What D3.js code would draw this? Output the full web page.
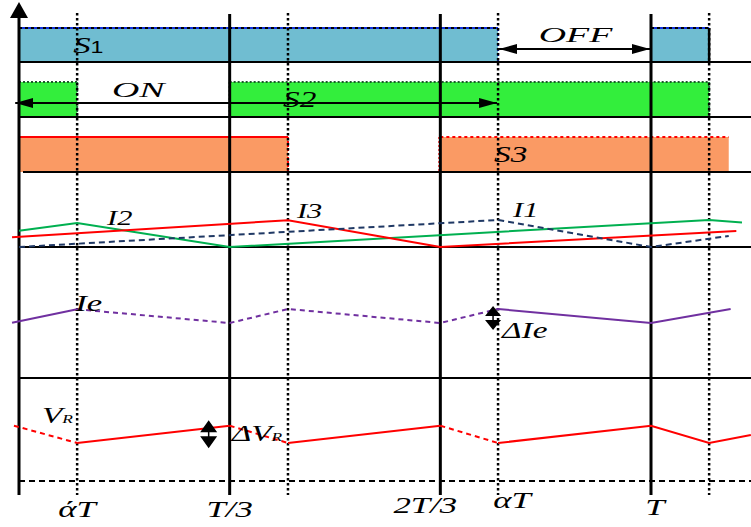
<!DOCTYPE html>
<html>
<head>
<meta charset="utf-8">
<script src="https://cdn.jsdelivr.net/npm/d3@7"></script>
<style>
html, body { margin: 0; padding: 0; background: #fff; }
svg { display: block; }
text { font-family: "Liberation Serif", "DejaVu Serif", serif; font-style: italic; fill: #000; }
</style>
</head>
<body>
<div id="chart"></div>
<script>
// time is in units of the period T
const T_A = 0.092;    // ά T
const T_D = 0.4256;   // T/3 + ά T
const T_B = 0.758;    // α T
const T_C = 1.092;    // T + ά T

const tickTimes = [T_A, 1/3, 2/3, T_B, 1];
const tickLabels = ['άT', 'T/3', '2T/3', 'αT', 'T'];
const solidTimes = [1/3, 2/3, 1];
const dottedTimes = [T_A, T_D, T_B, T_C];

// switch on-intervals [start, end]
const s1On = [[0, T_B], [1, T_C]];
const s2On = [[0, T_A], [1/3, T_C]];
const s3On = [[0, T_D], [2/3, 1.123]];

// phase currents, 0 = valley, 1 = peak
const i1Pts = [[0, 0], [T_B, 1], [1, 0], [1.123, 0.41]];
const i2Pts = [[0, 0.6], [T_A, 0.89], [1/3, 0], [T_C, 1], [1.144, 0.91]];
const i3Pts = [[-0.011, 0.36], [T_D, 0.99], [2/3, 0], [1.135, 0.59]];

// output current ripple
const iePts = [[-0.011, 0.02], [T_A, 0.98], [1/3, 0], [T_D, 1], [2/3, 0], [T_B, 1], [1, 0], [1.126, 1]];
const ieDashed = [false, true, true, true, true, false, false];

// output voltage ripple
const vrPts = [[-0.008, 1], [T_A, 0], [1/3, 1], [T_D, 0], [2/3, 1], [T_B, 0], [1, 1], [T_C, 0], [1.158, 0.46]];
const vrDashed = [true, false, true, false, true, false, false, false];

const W = 751, H = 527;
const SX = 1.45; // the figure's lettering is stretched sideways

const x = d3.scaleLinear().domain([0, 1]).range([19, 651]);
const row1 = [28, 62], row2 = [82, 117], row3 = [137, 172];
const yCur = d3.scaleLinear().domain([0, 1]).range([247, 220]);
const yIe = d3.scaleLinear().domain([0, 1]).range([323, 309]);
const yVr = d3.scaleLinear().domain([0, 1]).range([443, 425.7]);
const yBase = 378, yBottom = 481, yLineTop = 14, yLineBot = 495;

const svg = d3.select('#chart')
.append('svg')
.attr('width', W)
.attr('height', H);

const defs = svg.append('defs');
defs.append('marker')
.attr('id', 'head')
.attr('viewBox', '0 -5 18 10')
.attr('refX', 18)
.attr('refY', 0)
.attr('markerWidth', 18)
.attr('markerHeight', 10)
.attr('markerUnits', 'userSpaceOnUse')
.attr('orient', 'auto-start-reverse')
.append('path')
.attr('d', 'M0,-5L18,0L0,5Z')
.attr('fill', '#000');

function hline(x1, x2, y, color, width, dash) {
    return svg.append('line')
    .attr('x1', x1).attr('x2', x2).attr('y1', y).attr('y2', y)
    .attr('stroke', color).attr('stroke-width', width)
    .attr('stroke-dasharray', dash || null);
}
function vline(xx, y1, y2, color, width, dash) {
    return svg.append('line')
    .attr('x1', xx).attr('x2', xx).attr('y1', y1).attr('y2', y2)
    .attr('stroke', color).attr('stroke-width', width)
    .attr('stroke-dasharray', dash || null);
}

// ---- switch bars
function bars(on, row, fill) {
    svg.append('g')
    .selectAll('rect')
    .data(on)
    .enter()
    .append('rect')
    .attr('x', d => x(d[0]))
    .attr('y', row[0])
    .attr('width', d => x(d[1]) - x(d[0]))
    .attr('height', row[1] - row[0])
    .attr('fill', fill);
}
bars(s1On, row1, '#70BDD1');
bars(s2On, row2, '#33EE3C');
bars(s3On, row3, '#FA9A64');

// S1 borders
s1On.forEach(d => {
    hline(x(d[0]), x(d[1]), row1[0], '#000', 2, '3,3');
    hline(x(d[0]), x(d[1]), row1[0], '#1030E0', 2, '3,3').attr('stroke-dashoffset', 3);
});
vline(x(s1On[0][1]), row1[0], row1[1], '#1030E0', 2, '3,2');
vline(x(s1On[1][0]), row1[0], row1[1], '#1030E0', 2, '3,2');
vline(x(s1On[1][1]), row1[0], row1[1], '#000', 2.5);

// S2 borders
s2On.forEach(d => {
    hline(x(d[0]), x(d[1]), row2[0], '#1d5a2c', 2, '2,2');
    vline(x(d[1]), row2[0], row2[1], '#1d7a3c', 2, '2,2');
});
vline(x(s2On[1][0]), row2[0], row2[1], '#1d7a3c', 2, '2,2');

// S3 borders
hline(x(s3On[0][0]), x(s3On[0][1]), row3[0], '#FF0000', 2);
vline(x(s3On[0][1]), row3[0], row3[1], '#FF0000', 2, '2,2');
hline(x(s3On[1][0]), x(s3On[1][1]), row3[0], '#FF0000', 2, '3,3');
vline(x(s3On[1][0]) - 1, row3[0], row3[1], '#FF0000', 2, '2,2');

// ---- grid lines
[row1[1], row2[1], yCur(0), yBase].forEach(y => hline(x(0), W, y, '#000', 2));
hline(x(0) + 4, W, row3[1], '#000', 2);
hline(x(0), W, yBottom, '#000', 2, '6,4');

svg.append('g')
.selectAll('line')
.data(solidTimes)
.enter()
.append('line')
.attr('x1', d => x(d)).attr('x2', d => x(d))
.attr('y1', yLineTop).attr('y2', yLineBot)
.attr('stroke', '#000').attr('stroke-width', 3);

svg.append('g')
.selectAll('line')
.data(dottedTimes)
.enter()
.append('line')
.attr('x1', d => x(d)).attr('x2', d => x(d))
.attr('y1', yLineTop - 1).attr('y2', yLineBot)
.attr('stroke', '#000').attr('stroke-width', 2.5)
.attr('stroke-dasharray', '2.5,2.5');

// vertical axis with arrow
vline(x(0), 17, yLineBot, '#000', 3);
svg.append('path')
.attr('d', `M${x(0)},2L${x(0) - 9},18L${x(0) + 9},18Z`)
.attr('fill', '#000');

// ON / OFF arrows
hline(x(T_B) + 1, x(1) - 1, 49, '#000', 2)
.attr('marker-start', 'url(#head)').attr('marker-end', 'url(#head)');
hline(x(-0.006), x(T_B) - 1, 103, '#000', 2)
.attr('marker-start', 'url(#head)').attr('marker-end', 'url(#head)');

// ---- waveforms
function wave(pts, y, color, dash) {
    svg.append('path')
    .datum(pts)
    .attr('d', d3.line().x(d => x(d[0])).y(d => y(d[1])))
    .attr('fill', 'none')
    .attr('stroke', color)
    .attr('stroke-width', 2)
    .attr('stroke-dasharray', dash || null);
}
// split a polyline into runs of solid / dashed segments
function runs(pts, flags) {
    var out = [];
    flags.forEach((f, i) => {
        if (out.length && out[out.length - 1].dashed === f) {
            out[out.length - 1].pts.push(pts[i + 1]);
        } else {
            out.push({dashed: f, pts: [pts[i], pts[i + 1]]});
        }
    });
    return out;
}

wave(i2Pts, yCur, '#00B050');
wave(i3Pts, yCur, '#FF0000');
wave(i1Pts, yCur, '#1F3864', '6,4');
runs(iePts, ieDashed).forEach(r => wave(r.pts, yIe, '#7030A0', r.dashed ? '5,4' : null));
runs(vrPts, vrDashed).forEach(r => wave(r.pts, yVr, '#FF0000', r.dashed ? '5,4' : null));

// ripple markers
function ripple(cx, cy, half, w) {
    svg.append('path')
    .attr('d', `M${cx},${cy - half}L${cx - w},${cy - 2}L${cx + w},${cy - 2}Z` +
               `M${cx - w},${cy + 2}L${cx + w},${cy + 2}L${cx},${cy + half}Z`)
    .attr('fill', '#000');
    vline(cx, cy - 3, cy + 3, '#000', 1.5);
}
ripple(x(T_B) - 5, (yIe(0) + yIe(1)) / 2 + 2, 12, 8);
ripple(x(1/3) - 21, (yVr(0) + yVr(1)) / 2, 14, 8.5);

// ---- labels
function label(px, py, parts, size, anchor, sx) {
    var t = svg.append('text')
    .attr('transform', `translate(${px},${py}) scale(${sx || SX},1)`)
    .attr('font-size', size)
    .attr('text-anchor', anchor || 'start');
    parts.forEach(p => {
        var s = t.append('tspan').text(p[0]);
        if (p[1]) s.attr('font-size', p[1]);
        if (p[2]) s.attr('font-style', 'normal').attr('font-family', p[2]);
    });
}

label(x(T_A) - 4, 53, [['S'], ['1', 16, 'Liberation Sans']], 24);
label((x(T_B) + x(1)) / 2 + 1, 42, [['OFF']], 22, 'middle', 1.72);
label(112, 97, [['ON']], 22, 'start', 1.72);
label(x(T_D) - 5, 107, [['S2']], 23);
label(x(T_B) - 4, 162, [['S3']], 23);
label(107, 225, [['I2']], 21);
label(x(T_D) + 9, 218, [['I3']], 21);
label(x(T_B) + 15, 217, [['I1']], 21);
label(x(T_A) - 2, 311, [['Ie']], 24);
label(x(T_B) + 4, 338, [['ΔIe']], 23);
label(42, 423, [['V'], ['R', 12]], 23);
label(x(1/3) + 2, 441, [['ΔV'], ['R', 12]], 23);

const tickNudge = [[0, 517], [0, 517], [-15, 513], [14, 508], [4, 515]];
tickTimes.forEach((t, i) => {
    label(x(t) + tickNudge[i][0], tickNudge[i][1], [[tickLabels[i]]], 24, 'middle');
});
</script>
</body>
</html>
